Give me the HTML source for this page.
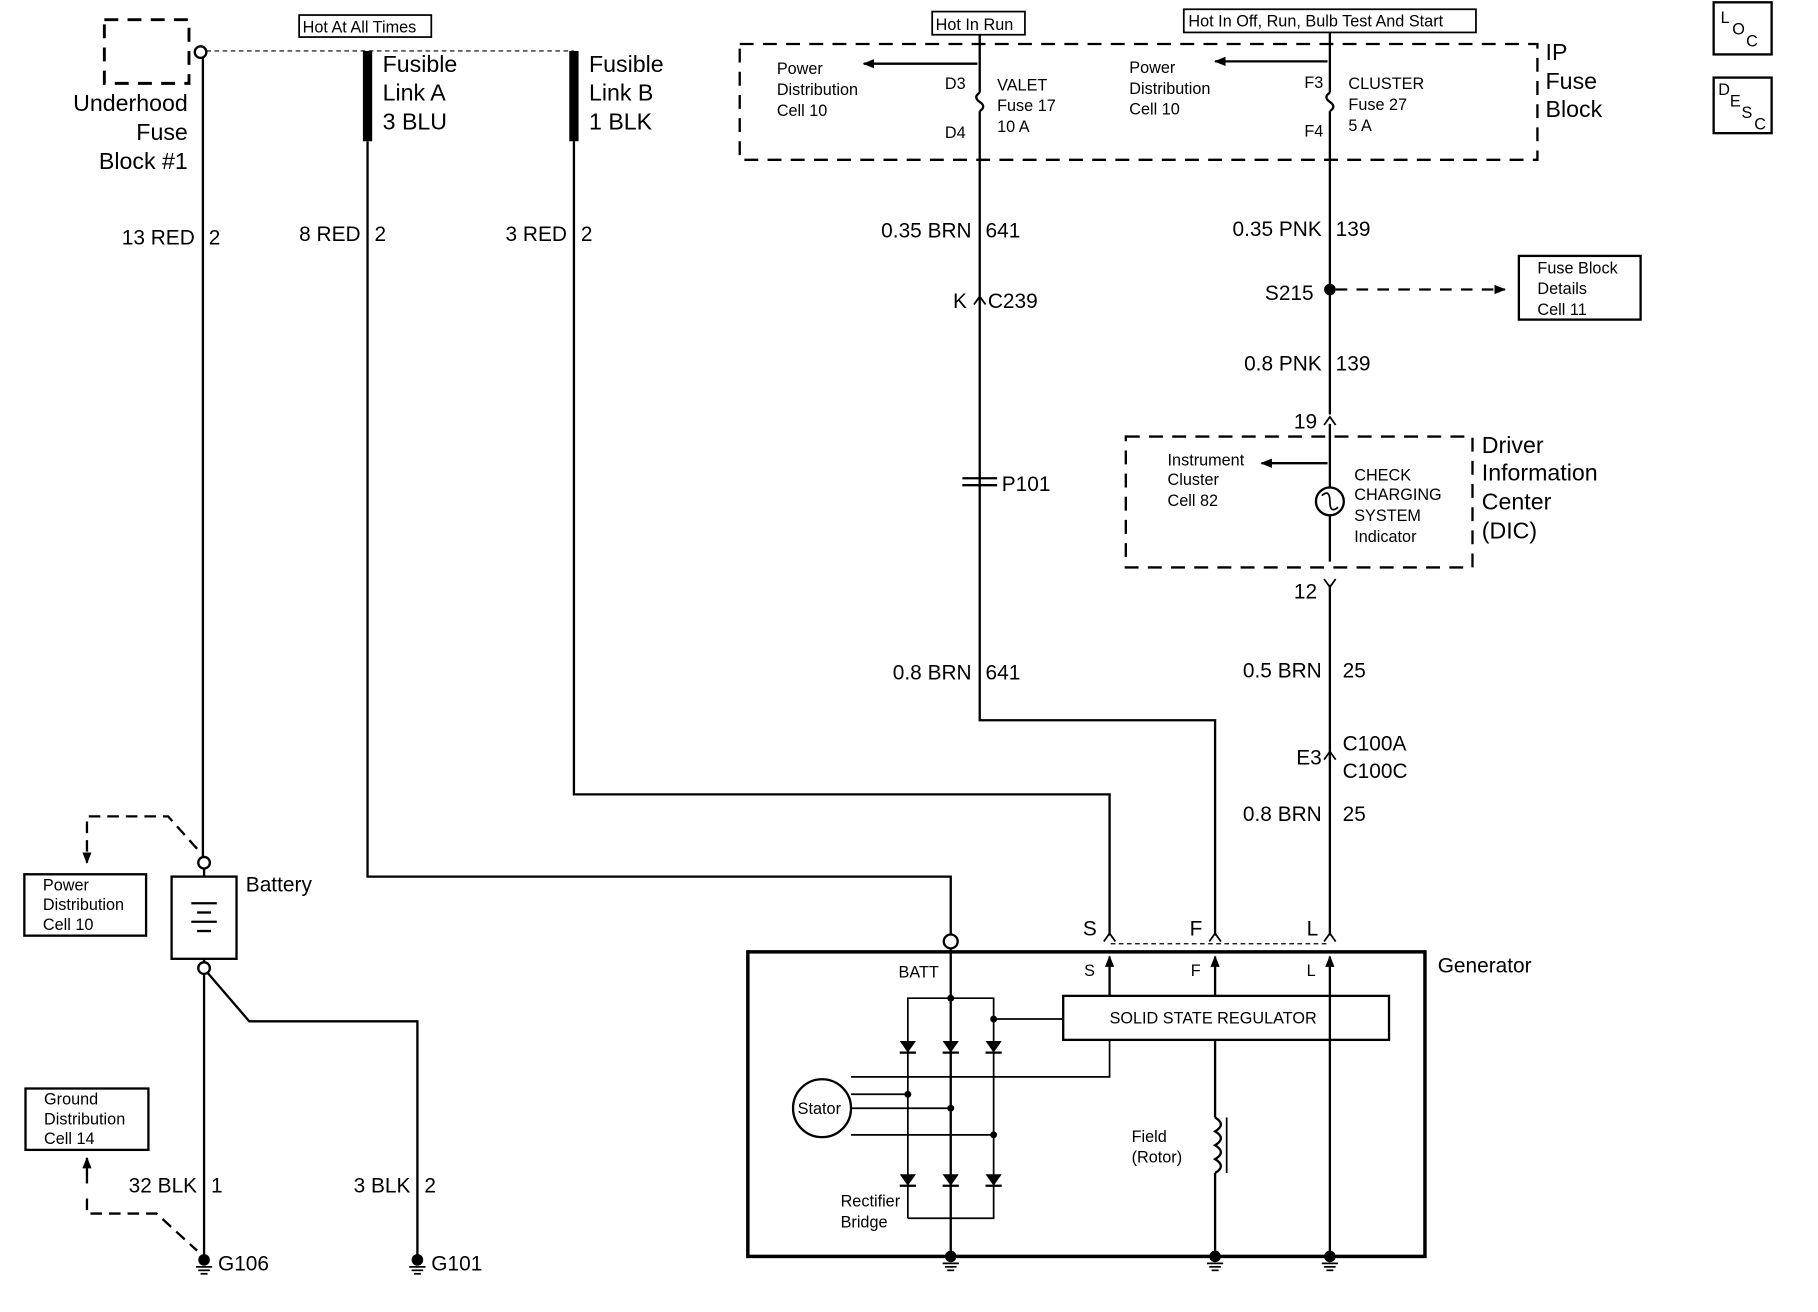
<!DOCTYPE html>
<html><head><meta charset="utf-8"><style>
html,body{margin:0;padding:0;background:#fff;}
svg{display:block;}
text{font-family:"Liberation Sans",Arial,sans-serif;fill:#000;}
.s{font-size:14px}.m{font-size:18px}.l{font-size:20px}
</style></head><body>
<svg width="1818" height="1312" viewBox="0 0 1568 1133" preserveAspectRatio="none" xmlns="http://www.w3.org/2000/svg">
<defs>
<marker id="ar" markerWidth="10" markerHeight="8" refX="9" refY="4" orient="auto-start-reverse" markerUnits="userSpaceOnUse"><path d="M0,0 L10,4 L0,8 z" fill="#000"/></marker>
<g id="gnd"><circle cx="0" cy="0" r="5" fill="#000"/><line x1="-7" y1="6" x2="7" y2="6" stroke="#000" stroke-width="1.5"/><line x1="-5" y1="9" x2="5" y2="9" stroke="#000" stroke-width="1.5"/><line x1="-3" y1="12" x2="3" y2="12" stroke="#000" stroke-width="1.5"/></g>
<g id="chev"><path d="M-5,5 L0,-2 L5,5" fill="none" stroke="#000" stroke-width="1.5"/></g>
<g id="dio"><path d="M-7,-4 L7,-4 L0,6 z" fill="#000"/><line x1="-7" y1="6" x2="7" y2="6" stroke="#000" stroke-width="2"/></g>
</defs>
<g fill="none" stroke="#000" stroke-width="2">
<rect x="90" y="17" width="73" height="55" stroke-dasharray="12,8" stroke-width="2.5"/>
<circle cx="173" cy="45" r="5"/>
<line x1="178" y1="44" x2="495" y2="44" stroke-dasharray="4,3" stroke-width="1"/>
<line x1="317" y1="44" x2="317" y2="122" stroke-width="8"/>
<line x1="495" y1="44" x2="495" y2="122" stroke-width="8"/>
<line x1="175" y1="50" x2="175" y2="740"/>
<polyline points="317,122 317,757 820,757 820,807"/>
<polyline points="495,122 495,686 957,686 957,808"/>
<circle cx="820" cy="813" r="6"/>
<rect x="638" y="38" width="688" height="100" stroke-dasharray="12,8"/>
<polyline points="845,30 845,80"/>
<path d="M845,80 q-6,4 0,8 q6,4 0,8"/>
<polyline points="845,96 845,622 1048,622 1048,808"/>
<line x1="843" y1="55" x2="745" y2="55" marker-end="url(#ar)"/>
<polyline points="1147,28 1147,80"/>
<path d="M1147,80 q-6,4 0,8 q6,4 0,8"/>
<line x1="1147" y1="96" x2="1147" y2="358"/>
<line x1="1145" y1="53" x2="1048" y2="53" marker-end="url(#ar)"/>
<line x1="1152" y1="250" x2="1298" y2="250" stroke-dasharray="10,8" marker-end="url(#ar)"/>
<rect x="1310" y="221" width="105" height="55"/>
<rect x="971" y="377" width="299" height="113" stroke-dasharray="12,8"/>
<line x1="1147" y1="366" x2="1147" y2="421"/>
<circle cx="1147" cy="433" r="12"/>
<line x1="1147" y1="445" x2="1147" y2="485"/>
<line x1="1145" y1="400" x2="1088" y2="400" marker-end="url(#ar)"/>
<line x1="1147" y1="505" x2="1147" y2="808"/>
<line x1="958" y1="815" x2="1147" y2="815" stroke-dasharray="4,3" stroke-width="1"/>
<rect x="645" y="822" width="584" height="263" stroke-width="3"/>
<rect x="917" y="860" width="281" height="38"/>
<line x1="820" y1="820" x2="820" y2="1085"/>
<line x1="957" y1="826" x2="957" y2="860" marker-start="url(#ar)"/>
<line x1="1048" y1="826" x2="1048" y2="860" marker-start="url(#ar)"/>
<line x1="1147" y1="826" x2="1147" y2="860" marker-start="url(#ar)"/>
<line x1="1048" y1="898" x2="1048" y2="965"/>
<path d="M1048,965 q10,6 0,12 q10,6 0,12 q10,6 0,12 q10,6 0,12"/>
<line x1="1048" y1="1013" x2="1048" y2="1085"/>
<line x1="1147" y1="860" x2="1147" y2="1085"/>
<line x1="1058" y1="965" x2="1058" y2="1013" stroke-width="1.5"/>
<polyline points="783,1052 783,862 857,862 857,1052 783,1052" stroke-width="1.5"/>
<line x1="857" y1="880" x2="917" y2="880" stroke-width="1.5"/>
<polyline points="957,898 957,930 734,930" stroke-width="1.5"/>
<line x1="734" y1="945" x2="783" y2="945" stroke-width="1.5"/>
<line x1="734" y1="957" x2="820" y2="957" stroke-width="1.5"/>
<line x1="734" y1="980" x2="857" y2="980" stroke-width="1.5"/>
<circle cx="709" cy="957" r="25"/>
<circle cx="176" cy="745" r="5"/>
<rect x="148" y="757" width="56" height="71"/>
<circle cx="176" cy="836" r="5"/>
<line x1="176" y1="750" x2="176" y2="757"/>
<line x1="176" y1="828" x2="176" y2="831"/>
<line x1="165" y1="780" x2="187" y2="780"/><line x1="170" y1="788" x2="182" y2="788"/><line x1="165" y1="796" x2="187" y2="796"/><line x1="170" y1="804" x2="182" y2="804"/>
<line x1="176" y1="841" x2="176" y2="1085"/>
<polyline points="179,840 215,882 360,882 360,1085"/>
<polyline points="170,733 145,705 85,705 75,705 75,745" stroke-dasharray="10,6" marker-end="url(#ar)"/>
<rect x="21" y="755" width="105" height="53"/>
<rect x="22" y="940" width="106" height="53"/>
<line x1="75" y1="1000" x2="75" y2="1022" marker-start="url(#ar)"/>
<polyline points="75,1035 75,1048 135,1048 170,1080" stroke-dasharray="10,6"/>
<rect x="1478" y="2" width="50" height="45"/>
<rect x="1478" y="67" width="50" height="48"/>
<rect x="258" y="13" width="114" height="19" stroke-width="1.5"/>
<rect x="804" y="10" width="80" height="20" stroke-width="1.5"/>
<rect x="1021" y="8" width="252" height="20" stroke-width="1.5"/>
<line x1="830" y1="413" x2="860" y2="413"/><line x1="830" y1="419" x2="860" y2="419"/>
</g>
<circle cx="1147" cy="250" r="5" fill="#000"/>
<path d="M1140,428 q7,-6 7,5 q0,11 7,5" fill="none" stroke="#000" stroke-width="1.5"/>
<use href="#chev" x="845" y="258"/><use href="#chev" x="1147" y="362"/><use href="#chev" x="1147" y="651"/>
<path d="M1142,500 L1147,507 L1152,500" fill="none" stroke="#000" stroke-width="1.5"/>
<use href="#chev" x="957" y="808"/><use href="#chev" x="1048" y="808"/><use href="#chev" x="1147" y="808"/>
<use href="#dio" x="783" y="903"/><use href="#dio" x="820" y="903"/><use href="#dio" x="857" y="903"/>
<use href="#dio" x="783" y="1018"/><use href="#dio" x="820" y="1018"/><use href="#dio" x="857" y="1018"/>
<circle cx="820" cy="957" r="3" fill="#000"/><circle cx="857" cy="980" r="3" fill="#000"/><circle cx="783" cy="945" r="3" fill="#000"/><circle cx="820" cy="862" r="3" fill="#000"/><circle cx="857" cy="880" r="3" fill="#000"/>
<use href="#gnd" x="820" y="1085"/><use href="#gnd" x="1048" y="1085"/><use href="#gnd" x="1147" y="1085"/>
<use href="#gnd" x="176" y="1088"/><use href="#gnd" x="360" y="1088"/>
<text class="s" x="261" y="28">Hot At All Times</text>
<text class="s" x="807" y="26">Hot In Run</text>
<text class="s" x="1025" y="23">Hot In Off, Run, Bulb Test And Start</text>
<text class="l" x="162" y="96" text-anchor="end">Underhood</text>
<text class="l" x="162" y="121" text-anchor="end">Fuse</text>
<text class="l" x="162" y="146" text-anchor="end">Block #1</text>
<text class="l" x="330" y="62">Fusible</text><text class="l" x="330" y="87">Link A</text><text class="l" x="330" y="112">3 BLU</text>
<text class="l" x="508" y="62">Fusible</text><text class="l" x="508" y="87">Link B</text><text class="l" x="508" y="112">1 BLK</text>
<text class="m" x="168" y="211" text-anchor="end">13 RED</text><text class="m" x="180" y="211">2</text>
<text class="m" x="311" y="208" text-anchor="end">8 RED</text><text class="m" x="323" y="208">2</text>
<text class="m" x="489" y="208" text-anchor="end">3 RED</text><text class="m" x="501" y="208">2</text>
<text class="s" x="670" y="64">Power</text><text class="s" x="670" y="82">Distribution</text><text class="s" x="670" y="100">Cell 10</text>
<text class="s" x="815" y="77">D3</text><text class="s" x="815" y="119">D4</text>
<text class="s" x="860" y="78">VALET</text><text class="s" x="860" y="96">Fuse 17</text><text class="s" x="860" y="114">10 A</text>
<text class="s" x="974" y="63">Power</text><text class="s" x="974" y="81">Distribution</text><text class="s" x="974" y="99">Cell 10</text>
<text class="s" x="1125" y="76">F3</text><text class="s" x="1125" y="118">F4</text>
<text class="s" x="1163" y="77">CLUSTER</text><text class="s" x="1163" y="95">Fuse 27</text><text class="s" x="1163" y="113">5 A</text>
<text class="l" x="1333" y="52">IP</text><text class="l" x="1333" y="77">Fuse</text><text class="l" x="1333" y="101">Block</text>
<text class="m" x="838" y="205" text-anchor="end">0.35 BRN</text><text class="m" x="850" y="205">641</text>
<text class="m" x="834" y="266" text-anchor="end">K</text><text class="m" x="852" y="266">C239</text>
<text class="m" x="864" y="424">P101</text>
<text class="m" x="838" y="587" text-anchor="end">0.8 BRN</text><text class="m" x="850" y="587">641</text>
<text class="m" x="1140" y="204" text-anchor="end">0.35 PNK</text><text class="m" x="1152" y="204">139</text>
<text class="m" x="1133" y="259" text-anchor="end">S215</text>
<text class="s" x="1326" y="236">Fuse Block</text><text class="s" x="1326" y="254">Details</text><text class="s" x="1326" y="272">Cell 11</text>
<text class="m" x="1140" y="320" text-anchor="end">0.8 PNK</text><text class="m" x="1152" y="320">139</text>
<text class="m" x="1136" y="370" text-anchor="end">19</text>
<text class="s" x="1007" y="402">Instrument</text><text class="s" x="1007" y="419">Cluster</text><text class="s" x="1007" y="437">Cell 82</text>
<text class="s" x="1168" y="415">CHECK</text><text class="s" x="1168" y="432">CHARGING</text><text class="s" x="1168" y="450">SYSTEM</text><text class="s" x="1168" y="468">Indicator</text>
<text class="l" x="1278" y="391">Driver</text><text class="l" x="1278" y="415">Information</text><text class="l" x="1278" y="440">Center</text><text class="l" x="1278" y="465">(DIC)</text>
<text class="m" x="1136" y="517" text-anchor="end">12</text>
<text class="m" x="1140" y="585" text-anchor="end">0.5 BRN</text><text class="m" x="1158" y="585">25</text>
<text class="m" x="1140" y="660" text-anchor="end">E3</text><text class="m" x="1158" y="648">C100A</text><text class="m" x="1158" y="672">C100C</text>
<text class="m" x="1140" y="709" text-anchor="end">0.8 BRN</text><text class="m" x="1158" y="709">25</text>
<text class="m" x="934" y="808">S</text><text class="m" x="1026" y="808">F</text><text class="m" x="1127" y="808">L</text>
<text class="m" x="1240" y="840">Generator</text>
<text class="s" x="775" y="844">BATT</text>
<text class="s" x="935" y="843">S</text><text class="s" x="1027" y="843">F</text><text class="s" x="1127" y="843">L</text>
<text class="s" x="957" y="884">SOLID STATE REGULATOR</text>
<text class="s" x="688" y="962">Stator</text>
<text class="s" x="976" y="986">Field</text><text class="s" x="976" y="1004">(Rotor)</text>
<text class="s" x="725" y="1042">Rectifier</text><text class="s" x="725" y="1060">Bridge</text>
<text class="m" x="212" y="770">Battery</text>
<text class="s" x="37" y="769">Power</text><text class="s" x="37" y="786">Distribution</text><text class="s" x="37" y="803">Cell 10</text>
<text class="s" x="38" y="954">Ground</text><text class="s" x="38" y="971">Distribution</text><text class="s" x="38" y="988">Cell 14</text>
<text class="m" x="170" y="1030" text-anchor="end">32 BLK</text><text class="m" x="182" y="1030">1</text>
<text class="m" x="354" y="1030" text-anchor="end">3 BLK</text><text class="m" x="366" y="1030">2</text>
<text class="m" x="188" y="1097">G106</text><text class="m" x="372" y="1097">G101</text>
<text class="s" x="1484" y="20">L</text><text class="s" x="1494" y="30">O</text><text class="s" x="1506" y="40">C</text>
<text class="s" x="1482" y="82">D</text><text class="s" x="1492" y="92">E</text><text class="s" x="1502" y="102">S</text><text class="s" x="1513" y="112">C</text>
</svg>
</body></html>
